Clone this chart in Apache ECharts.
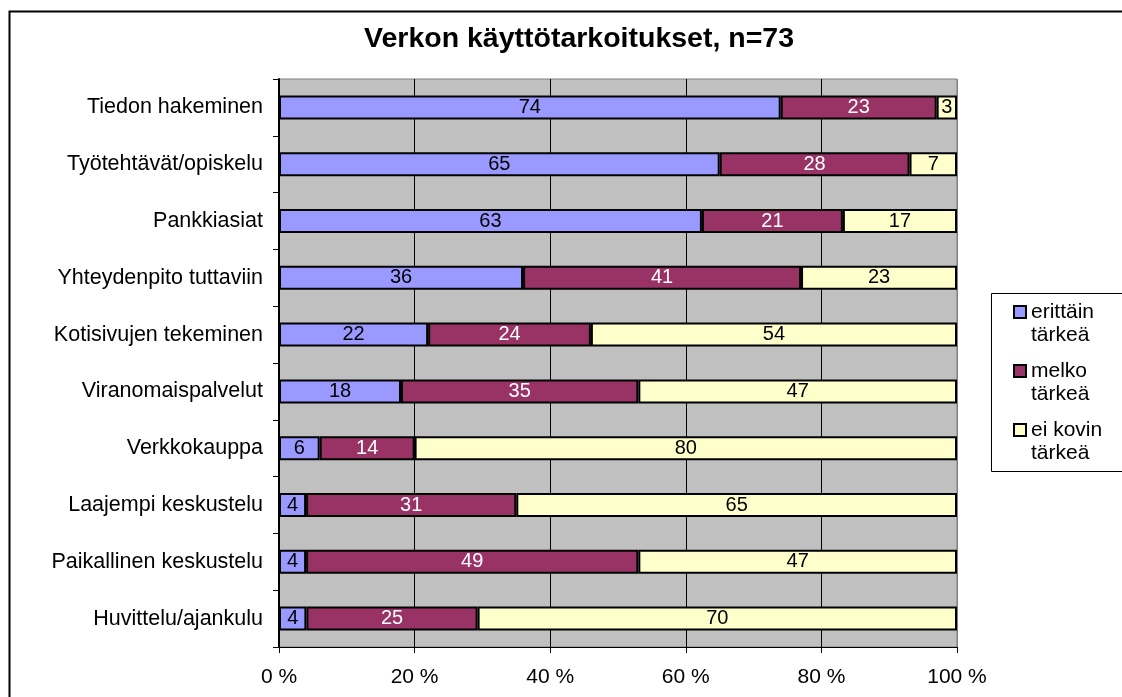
<!DOCTYPE html>
<html>
<head>
<meta charset="utf-8">
<title>Verkon käyttötarkoitukset</title>
<script src="https://cdn.jsdelivr.net/npm/echarts@6/dist/echarts.min.js"></script>
<style>
  html, body { margin: 0; padding: 0; background: #fff; }
  #chart { width: 1122px; height: 697px; }
</style>
</head>
<body>
<div id="chart"></div>
<script>
// kategoriat ylhäältä alas
var categories = [
  'Tiedon hakeminen',
  'Työtehtävät/opiskelu',
  'Pankkiasiat',
  'Yhteydenpito tuttaviin',
  'Kotisivujen tekeminen',
  'Viranomaispalvelut',
  'Verkkokauppa',
  'Laajempi keskustelu',
  'Paikallinen keskustelu',
  'Huvittelu/ajankulu'
]
var erittainTarkea = [74, 65, 63, 36, 22, 18, 6, 4, 4, 4]
var melkoTarkea = [23, 28, 21, 41, 24, 35, 14, 31, 49, 25]
var eiKovinTarkea = [3, 7, 17, 23, 54, 47, 80, 65, 47, 70]
var seriesNames = ['erittäin tärkeä', 'melko tärkeä', 'ei kovin tärkeä']
var xTicks = [0, 20, 40, 60, 80, 100]

var colorMap = ['#9999ff', '#993366', '#ffffcc']
var labelColors = ['#000', '#fff', '#000']
var rawData = [erittainTarkea, melkoTarkea, eiKovinTarkea]

// 100 % pinottu: skaalataan rivisummaan
var totals = categories.map(function (c, i) {
  return erittainTarkea[i] + melkoTarkea[i] + eiKovinTarkea[i]
})

var series = []
for (var s = 0; s < rawData.length; s++) {
  (function (s) {
    series.push({
      name: seriesNames[s],
      type: 'bar',
      stack: 'total',
      barWidth: 24,
      data: rawData[s].map(function (v, i) { return v / totals[i] * 100 }),
      itemStyle: {
        color: colorMap[s],
        borderColor: '#000',
        borderWidth: 2
      },
      label: {
        show: true,
        position: 'inside',
        color: labelColors[s],
        fontFamily: 'Liberation Sans, Arial, sans-serif',
        fontSize: 20,
        formatter: function (p) { return rawData[s][p.dataIndex] }
      },
      emphasis: { disabled: true }
    })
  })(s)
}

var chart = echarts.init(document.getElementById('chart'))
chart.setOption({
  animation: false,
  backgroundColor: '#fff',
  textStyle: { fontFamily: 'Liberation Sans, Arial, sans-serif' },
  title: {
    text: 'Verkon käyttötarkoitukset, n=73',
    left: 359,
    top: 20,
    textStyle: { fontSize: 28.5, fontWeight: 'bold', color: '#000' }
  },
  graphic: [
    {
      type: 'rect',
      left: 7,
      top: 9,
      shape: { width: 1300, height: 900 },
      style: { fill: 'none', stroke: '#000', lineWidth: 2 },
      silent: true
    },
    {
      type: 'rect',
      left: 991,
      top: 293,
      shape: { width: 200, height: 178 },
      style: { fill: '#fff', stroke: '#000', lineWidth: 1 },
      silent: true,
      z: -1
    }
  ],
  legend: {
    orient: 'vertical',
    left: 1013,
    top: 277.5,
    padding: 0,
    itemGap: -10,
    itemWidth: 12,
    itemHeight: 12,
    icon: 'rect',
    data: seriesNames,
    // tyhjä rivi alkuun, jotta ikoni osuu ensimmäisen rivin kohdalle
    formatter: function (name) {
      var cut = name.lastIndexOf(' ')
      return '\n' + name.slice(0, cut) + '\n' + name.slice(cut + 1)
    },
    textStyle: {
      fontSize: 21,
      lineHeight: 23,
      color: '#000'
    },
    selectedMode: false
  },
  grid: {
    left: 279,
    right: 165,
    top: 79,
    bottom: 50,
    show: true,
    backgroundColor: '#c0c0c0',
    borderColor: '#808080',
    borderWidth: 1
  },
  xAxis: {
    type: 'value',
    min: 0,
    max: 100,
    interval: 20,
    axisLine: { show: true, lineStyle: { color: '#000', width: 1 } },
    axisTick: { show: true, length: 6, lineStyle: { color: '#000' } },
    axisLabel: {
      color: '#000',
      fontSize: 21,
      margin: 20,
      formatter: function (v) { return xTicks.indexOf(v) >= 0 ? v + ' %' : '' }
    },
    splitLine: {
      show: true,
      lineStyle: { color: ['#808080', '#000', '#000', '#000', '#000', '#808080'], width: 1 }
    }
  },
  yAxis: {
    type: 'category',
    inverse: true,
    data: categories,
    axisLine: { show: true, lineStyle: { color: '#000', width: 2 } },
    axisTick: { show: true, length: 6, lineStyle: { color: '#000' } },
    axisLabel: { color: '#000', fontSize: 21.5, margin: 16 }
  },
  series: series
})
</script>
</body>
</html>
